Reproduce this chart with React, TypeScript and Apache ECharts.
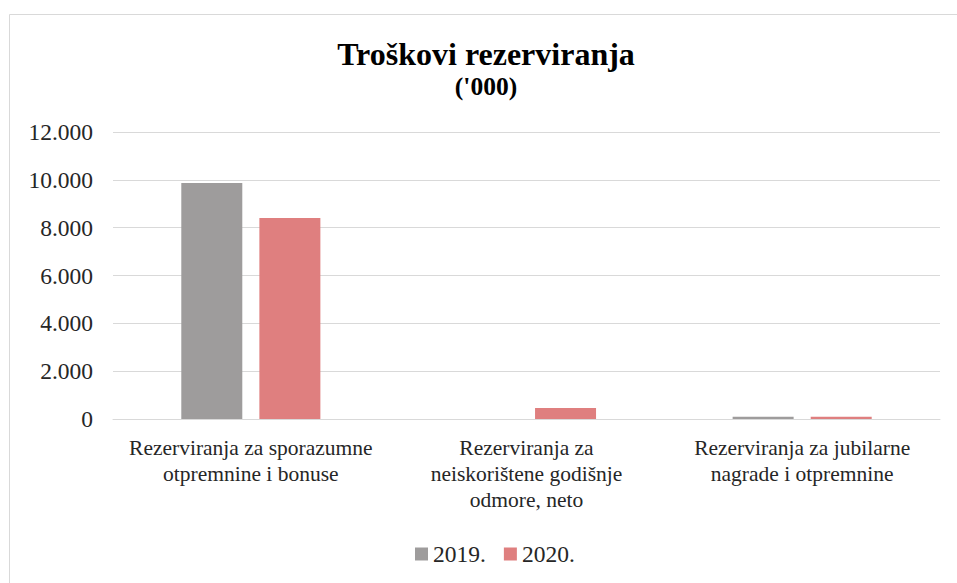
import React, { useEffect, useRef } from "react";
import * as echarts from "echarts";

const categories = [
  "Rezerviranja za sporazumne\notpremnine i bonuse",
  "Rezerviranja za\nneiskorištene godišnje\nodmore, neto",
  "Rezerviranja za jubilarne\nnagrade i otpremnine",
];
const seriesNames = ["2019.", "2020."];
const values2019 = [9870, 0, 90];
const values2020 = [8400, 460, 90];
const yTicks = { min: 0, max: 12000, interval: 2000 };

const fmt = (v: number) => String(v).replace(/\B(?=(\d{3})+(?!\d))/g, ".");

export default function App() {
  const ref = useRef<HTMLDivElement>(null);
  useEffect(() => {
    if (!ref.current) return;
    const chart = echarts.init(ref.current, null, { renderer: "svg" });
    const font = "Liberation Serif";
    chart.setOption({
      animation: false,
      backgroundColor: "#ffffff",
      textStyle: { fontFamily: font, fontSize: 22 },
      title: {
        text: "Troškovi rezerviranja",
        subtext: "('000)",
        left: 481,
        textAlign: "center",
        top: 33,
        itemGap: 3,
        textStyle: { fontFamily: font, fontSize: 32, fontWeight: "bold", color: "#000000" },
        subtextStyle: { fontFamily: font, fontSize: 25.5, fontWeight: "bold", color: "#000000" },
      },
      graphic: [
        {
          type: "rect",
          shape: { x: 9.5, y: 14.5, width: 1000, height: 700 },
          style: { fill: "none", stroke: "#D9D9D9", lineWidth: 1 },
          silent: true,
          z: -1,
        },
      ],
      legend: {
        left: 410,
        top: 537,
        itemWidth: 13,
        itemHeight: 13,
        itemGap: 18,
        icon: "rect",
        textStyle: { fontFamily: font, fontSize: 23.5, color: "#262626" },
        data: seriesNames,
      },
      grid: { left: 113, right: 17, top: 132, height: 287 },
      xAxis: {
        type: "category",
        data: categories,
        axisLine: { lineStyle: { color: "#D9D9D9", width: 1 } },
        axisTick: { show: false },
        axisLabel: {
          fontFamily: font,
          fontSize: 21.5,
          color: "#262626",
          lineHeight: 26,
          margin: 16,
          interval: 0,
        },
      },
      yAxis: {
        type: "value",
        min: yTicks.min,
        max: yTicks.max,
        interval: yTicks.interval,
        axisLine: { show: false },
        axisTick: { show: false },
        splitLine: { lineStyle: { color: "#D9D9D9", width: 1 } },
        axisLabel: {
          fontFamily: font,
          fontSize: 23.5,
          color: "#262626",
          margin: 20,
          formatter: (v: number) => fmt(v),
        },
      },
      series: [
        {
          name: seriesNames[0],
          type: "bar",
          data: values2019,
          barWidth: 61,
          barGap: "28%",
          itemStyle: { color: "#9E9C9C" },
        },
        {
          name: seriesNames[1],
          type: "bar",
          data: values2020,
          barWidth: 61,
          barGap: "28%",
          itemStyle: { color: "#DF7F7F" },
        },
      ],
    });
    return () => chart.dispose();
  }, []);
  return (
    <div
      ref={ref}
      style={{ position: "absolute", left: 0, top: 0, width: 957, height: 583 }}
    />
  );
}
